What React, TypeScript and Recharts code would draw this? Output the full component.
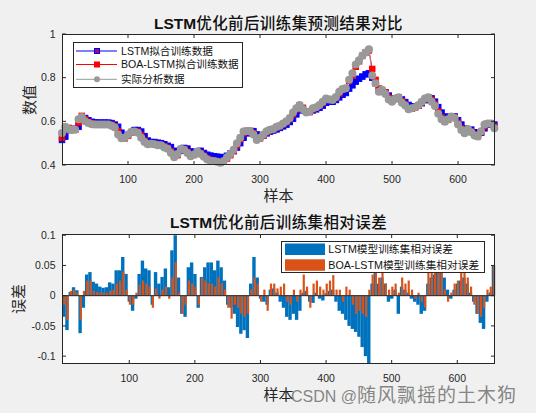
import React from "react";
import { LineChart, Line, BarChart, Bar, XAxis, YAxis, ReferenceLine, Rectangle } from "recharts";

const LATIN = "'Liberation Sans', Arial, 'Noto Sans CJK SC', sans-serif";
const CJK = "'Noto Sans CJK SC', 'Liberation Sans', sans-serif";

// sample index, every 5th training sample
const samples = Array.from({ length: 132 }, (_, i) => i * 5);

const actualData = [
	0.547, 0.575, 0.565, 0.56, 0.562, 0.61, 0.62, 0.6, 0.592, 0.587,
	0.586, 0.585, 0.586, 0.586, 0.585, 0.58, 0.572, 0.54, 0.523, 0.525,
	0.54, 0.552, 0.553, 0.548, 0.525, 0.505, 0.495, 0.497, 0.495, 0.49,
	0.49, 0.48, 0.475, 0.455, 0.435, 0.45, 0.475, 0.47, 0.455, 0.44,
	0.448, 0.462, 0.45, 0.438, 0.425, 0.42, 0.418, 0.415, 0.41, 0.418,
	0.435, 0.45, 0.47, 0.5, 0.525, 0.553, 0.556, 0.553, 0.54, 0.515,
	0.525, 0.54, 0.555, 0.562, 0.565, 0.575, 0.58, 0.59, 0.6, 0.615,
	0.64, 0.66, 0.675, 0.655, 0.64, 0.645, 0.66, 0.665, 0.675, 0.69,
	0.705, 0.7, 0.698, 0.712, 0.735, 0.748, 0.752, 0.79, 0.82, 0.86,
	0.88, 0.9, 0.915, 0.93, 0.81, 0.775, 0.735, 0.745, 0.725, 0.7,
	0.69, 0.705, 0.71, 0.685, 0.672, 0.655, 0.66, 0.665, 0.675, 0.69,
	0.705, 0.71, 0.69, 0.67, 0.635, 0.61, 0.598, 0.61, 0.622, 0.615,
	0.585, 0.56, 0.545, 0.565, 0.55, 0.535, 0.53, 0.555, 0.585, 0.59,
	0.59, 0.568,
];

const lstmFit = [
	0.515, 0.53, 0.56, 0.565, 0.565, 0.575, 0.61, 0.615, 0.605, 0.598,
	0.595, 0.594, 0.594, 0.594, 0.594, 0.592, 0.585, 0.575, 0.548, 0.535,
	0.538, 0.55, 0.56, 0.56, 0.553, 0.532, 0.512, 0.505, 0.505, 0.502,
	0.5, 0.495, 0.488, 0.482, 0.465, 0.455, 0.465, 0.478, 0.475, 0.462,
	0.455, 0.46, 0.465, 0.455, 0.447, 0.443, 0.44, 0.438, 0.436, 0.436,
	0.442, 0.452, 0.465, 0.48, 0.5, 0.525, 0.545, 0.555, 0.555, 0.54,
	0.53, 0.535, 0.545, 0.553, 0.558, 0.563, 0.57, 0.577, 0.585, 0.597,
	0.612, 0.632, 0.65, 0.655, 0.645, 0.643, 0.65, 0.655, 0.662, 0.672,
	0.685, 0.69, 0.69, 0.698, 0.71, 0.722, 0.73, 0.75, 0.765, 0.782,
	0.795, 0.805, 0.815, 0.82, 0.8, 0.775, 0.745, 0.735, 0.732, 0.718,
	0.705, 0.705, 0.708, 0.7, 0.688, 0.675, 0.668, 0.668, 0.672, 0.683,
	0.697, 0.707, 0.705, 0.69, 0.665, 0.64, 0.622, 0.618, 0.622, 0.622,
	0.605, 0.585, 0.567, 0.563, 0.562, 0.55, 0.542, 0.548, 0.568, 0.585,
	0.59, 0.585,
];

const boaFit = [
	0.525, 0.56, 0.57, 0.562, 0.562, 0.595, 0.625, 0.61, 0.597, 0.59,
	0.588, 0.587, 0.587, 0.587, 0.587, 0.584, 0.577, 0.555, 0.528, 0.522,
	0.535, 0.55, 0.555, 0.552, 0.535, 0.512, 0.498, 0.497, 0.497, 0.493,
	0.49, 0.485, 0.478, 0.462, 0.442, 0.445, 0.47, 0.473, 0.46, 0.445,
	0.446, 0.46, 0.455, 0.442, 0.43, 0.423, 0.42, 0.417, 0.412, 0.415,
	0.43, 0.445, 0.463, 0.49, 0.518, 0.545, 0.556, 0.556, 0.545, 0.522,
	0.522, 0.535, 0.55, 0.56, 0.564, 0.572, 0.578, 0.587, 0.597, 0.61,
	0.632, 0.655, 0.672, 0.662, 0.645, 0.643, 0.655, 0.663, 0.672, 0.685,
	0.7, 0.702, 0.7, 0.708, 0.728, 0.745, 0.752, 0.785, 0.81, 0.85,
	0.875, 0.9, 0.915, 0.925, 0.84, 0.79, 0.75, 0.74, 0.732, 0.708,
	0.695, 0.702, 0.71, 0.692, 0.677, 0.66, 0.658, 0.663, 0.672, 0.687,
	0.703, 0.71, 0.698, 0.678, 0.645, 0.617, 0.6, 0.607, 0.62, 0.617,
	0.593, 0.567, 0.548, 0.56, 0.553, 0.54, 0.532, 0.55, 0.578, 0.59,
	0.59, 0.575,
];

const lstmErr = [
	-0.035, -0.057, 0.006, 0.014, 0.009, -0.062, -0.02, 0.035, 0.039, 0.023,
	0.02, 0.015, 0.013, 0.014, 0.022, 0.02, 0.042, 0.042, 0.064, 0.036,
	-0.01, -0.025, -0.005, 0.036, 0.058, 0.045, 0.042, -0.015, 0.039, 0.02,
	0.031, 0.045, 0.014, 0.075, 0.1, 0.03, -0.03, -0.035, 0.047, 0.055,
	0.036, -0.02, 0.031, 0.047, 0.055, 0.055, 0.042, 0.058, 0.047, 0.025,
	-0.015, -0.02, -0.03, -0.052, -0.063, -0.057, -0.07, 0.02, 0.064, 0.03,
	-0.005, -0.01, -0.015, 0.01, 0.012, 0.005, -0.01, -0.02, -0.035, -0.04,
	-0.03, -0.04, -0.025, 0.005, 0.008, -0.01, -0.012, 0.005, -0.005, -0.008,
	0.004, 0.008, 0.01, -0.01, -0.025, -0.03, -0.04, -0.05, -0.055, -0.06,
	-0.068, -0.085, -0.1, -0.112, 0.02, 0.045, 0.02, 0.03, 0.02, -0.01,
	-0.005, 0.01, -0.03, 0.015, 0.01, 0.005, -0.005, -0.01, -0.015, -0.03,
	-0.025, 0.02, 0.03, 0.035, 0.04, 0.045, 0.03, 0.01, -0.005, 0.01,
	0.02, 0.025, 0.03, 0.02, 0.005, -0.01, -0.03, -0.045, -0.055, -0.01,
	0.005, 0.05,
];

const boaErr = [
	-0.015, -0.04, 0.008, 0.01, 0.005, -0.04, 0.008, 0.025, 0.025, 0.008,
	0.006, 0.005, 0.005, 0.005, 0.008, 0.01, 0.02, 0.025, 0.04, 0.01,
	-0.015, -0.015, 0.005, 0.018, 0.025, 0.02, 0.015, -0.02, 0.012, -0.005,
	0.01, 0.015, -0.005, 0.03, 0.055, 0.005, -0.03, -0.015, 0.025, 0.02,
	0.015, -0.015, 0.03, 0.025, 0.02, 0.02, 0.015, 0.03, 0.02, 0.01,
	-0.02, -0.038, -0.015, -0.02, -0.03, -0.035, -0.03, 0.01, 0.03, 0.02,
	-0.01, 0.01, -0.025, 0.02, 0.02, 0.012, 0.015, 0.02, -0.01, -0.015,
	0.01, -0.01, 0.01, 0.035, 0.015, -0.02, 0.02, 0.025, 0.015, 0.01,
	0.02, 0.025, 0.034, 0.01, 0.01, -0.01, 0.015, 0.01, -0.015, -0.03,
	-0.025, -0.03, -0.035, 0.01, 0.035, 0.04, 0.03, 0.04, 0.02, 0.01,
	0.015, 0.02, 0.005, 0.03, 0.02, 0.025, 0.01, -0.005, 0.005, -0.01,
	-0.02, 0.04, 0.045, 0.05, 0.045, 0.04, 0.01, -0.01, 0.005, 0.02,
	0.025, 0.04, 0.04, 0.03, 0.015, -0.015, -0.03, -0.035, -0.02, 0.01,
	0.015, 0.05,
];

const xTicks = [100, 200, 300, 400, 500, 600];
const topYTicks = [0.4, 0.6, 0.8, 1];
const errYTicks = [-0.1, -0.05, 0, 0.05, 0.1];

const topData = samples.map((s, i) => ({
	s,
	lstm: lstmFit[i],
	boa: boaFit[i],
	actual: actualData[i],
}));

const errData = samples.map((s, i) => ({
	s,
	lstmErr: lstmErr[i],
	boaErr: boaErr[i],
}));

const AXIS = "#262626";

const XTick = (props: any) => {
	const { x, y, payload, plotH } = props;
	return (
		<g>
			<line x1={x} y1={y} x2={x} y2={y - 4} stroke={AXIS} />
			<line x1={x} y1={y - plotH} x2={x} y2={y - plotH + 4} stroke={AXIS} />
			<text x={x} y={y + 17.5} textAnchor="middle" fill={AXIS} fontSize={10.5} fontFamily={LATIN}>
				{payload.value}
			</text>
		</g>
	);
};

const YTick = (props: any) => {
	const { x, y, payload, plotW } = props;
	return (
		<g>
			<line x1={x} y1={y} x2={x + 4} y2={y} stroke={AXIS} />
			<line x1={x + plotW} y1={y} x2={x + plotW - 4} y2={y} stroke={AXIS} />
			<text x={x - 6.5} y={y + 3.8} textAnchor="end" fill={AXIS} fontSize={10.5} fontFamily={LATIN}>
				{String(payload.value)}
			</text>
		</g>
	);
};

const SquareDot = (props: any) => {
	const { cx, cy, edge, face, size, index } = props;
	if (cx == null || cy == null) return null;
	return (
		<rect
			key={`sq-${index}`}
			x={cx - size / 2}
			y={cy - size / 2}
			width={size}
			height={size}
			fill={face}
			stroke={edge}
			strokeWidth={1}
		/>
	);
};

const RoundDot = (props: any) => {
	const { cx, cy, face, index } = props;
	if (cx == null || cy == null) return null;
	return <circle key={`c-${index}`} cx={cx} cy={cy} r={4} fill={face} stroke="none" />;
};

// the matlab bars are packed so tight that they read as a filled band: widen ours to touch
const BlueBar = (props: any) => <Rectangle {...props} width={3.4} />;
const OrangeBar = (props: any) => <Rectangle {...props} x={props.x - 0.4} width={2.2} />;

const rotLabel = (text: string, cx: number, cy: number) => (
	<div
		style={{
			position: "absolute",
			left: cx - 30,
			top: cy - 10,
			width: 60,
			height: 20,
			lineHeight: "20px",
			textAlign: "center",
			transform: "rotate(-90deg)",
			fontFamily: CJK,
			fontSize: 15,
			color: AXIS,
		}}
	>
		{text}
	</div>
);

const hLabel = (text: string, cx: number, cy: number, size: number) => (
	<div
		style={{
			position: "absolute",
			left: cx - 200,
			top: cy - 10,
			width: 400,
			height: 20,
			lineHeight: "20px",
			textAlign: "center",
			fontFamily: LATIN,
			fontSize: size,
			color: AXIS,
			whiteSpace: "nowrap",
		}}
	>
		{text}
	</div>
);

const title = (latin: string, rest: string, cy: number) => (
	<div
		style={{
			position: "absolute",
			left: 78.5,
			top: cy - 10,
			width: 400,
			height: 20,
			lineHeight: "20px",
			textAlign: "center",
			fontSize: 15.5,
			color: "#111",
			whiteSpace: "nowrap",
		}}
	>
		<span style={{ fontFamily: LATIN, fontWeight: "bold" }}>{latin}</span>
		<span style={{ fontFamily: CJK, fontWeight: 500, letterSpacing: 0.4 }}>{rest}</span>
	</div>
);

export default function App() {
	return (
		<div
			style={{
				position: "absolute",
				left: 0,
				top: 0,
				width: 536,
				height: 413,
				background: "#f0f0f0",
				overflow: "hidden",
			}}
		>
			{/* plot backgrounds */}
			<div style={{ position: "absolute", left: 62, top: 34, width: 433, height: 131, background: "#fff" }} />
			<div style={{ position: "absolute", left: 62, top: 234, width: 433, height: 130, background: "#fff" }} />

			<div style={{ position: "absolute", left: 0, top: 0 }}>
				<LineChart width={536} height={200} data={topData} margin={{ top: 34, right: 41, left: 0, bottom: 0 }}>
					<XAxis
						dataKey="s"
						type="number"
						domain={[0, 656]}
						ticks={xTicks}
						height={35}
						tickSize={0}
						tickMargin={0}
						axisLine={false}
						tick={<XTick plotH={131} />}
					/>
					<YAxis
						type="number"
						domain={[0.4, 1]}
						ticks={topYTicks}
						width={62}
						tickSize={0}
						tickMargin={0}
						axisLine={false}
						tick={<YTick plotW={433} />}
					/>
					<Line
						dataKey="lstm"
						stroke="#0000ff"
						strokeWidth={1}
						dot={<SquareDot edge="#0000ff" face="#0000ff" size={5.5} />}
						isAnimationActive={false}
					/>
					<Line
						dataKey="boa"
						stroke="#ff0000"
						strokeWidth={1}
						dot={<SquareDot edge="#ff0000" face="#ff0000" size={5.5} />}
						isAnimationActive={false}
					/>
					<Line
						dataKey="actual"
						stroke="#999999"
						strokeWidth={1}
						dot={<RoundDot face="#999999" />}
						isAnimationActive={false}
					/>
				</LineChart>
			</div>

			<div style={{ position: "absolute", left: 0, top: 200 }}>
				<BarChart
					width={536}
					height={213}
					data={errData}
					margin={{ top: 34, right: 41, left: 0, bottom: 0 }}
					barGap={0}
					barCategoryGap={0}
				>
					<XAxis
						dataKey="s"
						type="category"
						ticks={xTicks}
						interval={0}
						height={49}
						tickSize={0}
						tickMargin={0}
						axisLine={false}
						tick={<XTick plotH={130} />}
					/>
					<YAxis
						type="number"
						domain={[-0.113, 0.102]}
						ticks={errYTicks}
						width={62}
						tickSize={0}
						tickMargin={0}
						axisLine={false}
						allowDataOverflow
						tick={<YTick plotW={433} />}
					/>
					<Bar dataKey="lstmErr" fill="#0072BD" barSize={1.6} shape={BlueBar} isAnimationActive={false} />
					<Bar dataKey="boaErr" fill="#D95319" barSize={1.6} shape={OrangeBar} isAnimationActive={false} />
					<ReferenceLine y={0} stroke={AXIS} strokeWidth={1} />
				</BarChart>
			</div>

			{/* axes boxes */}
			<div style={{ position: "absolute", left: 62, top: 34, width: 433, height: 131, border: `1px solid ${AXIS}`, boxSizing: "border-box" }} />
			<div style={{ position: "absolute", left: 62, top: 234, width: 433, height: 130, border: `1px solid ${AXIS}`, boxSizing: "border-box" }} />

			{/* top legend */}
			<svg style={{ position: "absolute", left: 73, top: 42 }} width={171} height={47}>
				<rect x={0.5} y={0.5} width={169} height={45} fill="#fff" stroke={AXIS} />
				<line x1={3} y1={9} x2={44} y2={9} stroke="#0000ff" />
				<rect x={21.5} y={6.5} width={5} height={5} fill="#a0105a" stroke="#0000ff" />
				<text x={48} y={12.8} fontSize={10.6} fontFamily={LATIN} fill="#111">LSTM拟合训练数据</text>
				<line x1={3} y1={22.5} x2={44} y2={22.5} stroke="#ff0000" />
				<rect x={21.5} y={20} width={5} height={5} fill="#ff0000" stroke="#ff0000" />
				<text x={48} y={26.3} fontSize={10.6} fontFamily={LATIN} fill="#111">BOA-LSTM拟合训练数据</text>
				<line x1={3} y1={37.3} x2={44} y2={37.3} stroke="#999999" />
				<circle cx={24} cy={37.3} r={3} fill="#999999" />
				<text x={48} y={41.1} fontSize={10.6} fontFamily={LATIN} fill="#111">实际分析数据</text>
			</svg>

			{/* bottom legend */}
			<svg style={{ position: "absolute", left: 281, top: 241 }} width={205} height={33}>
				<rect x={0.5} y={0.5} width={203} height={31} fill="#fff" stroke={AXIS} />
				<rect x={4} y={2.5} width={40} height={11.5} fill="#0072BD" />
				<text x={47.3} y={11.8} fontSize={10.7} fontFamily={LATIN} fill="#111">LSTM模型训练集相对误差</text>
				<rect x={4} y={18.3} width={40} height={11.5} fill="#D95319" />
				<text x={47.3} y={27.8} fontSize={10.7} fontFamily={LATIN} fill="#111">BOA-LSTM模型训练集相对误差</text>
			</svg>

			{title("LSTM", "优化前后训练集预测结果对比", 21.7)}
			{title("LSTM", "优化前后训练集相对误差", 221)}
			{hLabel("样本", 278.5, 195.5, 15)}
			{hLabel("样本", 278.5, 395, 15)}
			{rotLabel("数值", 28.5, 99.5)}
			{rotLabel("误差", 18.3, 299)}

			{/* watermark */}
			<div
				style={{
					position: "absolute",
					left: 291,
					top: 382,
					height: 24,
					lineHeight: "24px",
					whiteSpace: "nowrap",
					color: "rgba(105,105,105,0.8)",
				}}
			>
				<span style={{ fontFamily: LATIN, fontSize: 16 }}>CSDN @</span>
				<span style={{ fontFamily: CJK, fontSize: 19, letterSpacing: 1 }}>随风飘摇的土木狗</span>
			</div>
		</div>
	);
}
